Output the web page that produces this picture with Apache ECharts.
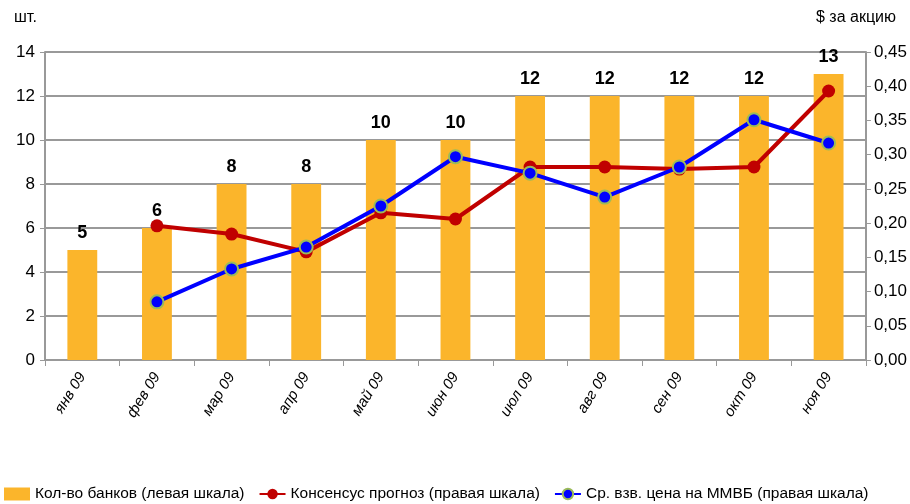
<!DOCTYPE html>
<html>
<head>
<meta charset="utf-8">
<script src="https://cdn.jsdelivr.net/npm/echarts@6/dist/echarts.min.js"></script>
<style>
html,body{margin:0;padding:0;background:#fff;}
#chart{width:910px;height:504px;}
</style>
</head>
<body>
<div id="chart"></div>
<script>
var months = ['янв 09','фев 09','мар 09','апр 09','май 09','июн 09','июл 09','авг 09','сен 09','окт 09','ноя 09'];
var banks = [5, 6, 8, 8, 10, 10, 12, 12, 12, 12, 13];
var consensus = [null, 0.196, 0.184, 0.158, 0.215, 0.206, 0.282, 0.282, 0.279, 0.282, 0.393];
var price = [null, 0.085, 0.133, 0.165, 0.225, 0.297, 0.273, 0.238, 0.282, 0.351, 0.317];

var font = 'Arial, "Liberation Sans", sans-serif';
var chart = echarts.init(document.getElementById('chart'));
var option = {
    animation: false,
    textStyle: {fontFamily: font},
    grid: {left: 45, right: 44, top: 52, bottom: 144},
    graphic: [
        {type: 'text', left: 14, top: 10, style: {text: 'шт.', fontSize: 16, fill: '#000', fontFamily: font}},
        {type: 'text', right: 14, top: 10, style: {text: '$ за акцию', fontSize: 16, fill: '#000', fontFamily: font}}
    ],
    legend: {
        bottom: 2,
        left: 4,
        width: 905,
        padding: 0,
        itemGap: 14,
        itemWidth: 26,
        itemHeight: 13,
        textStyle: {fontSize: 15.5, color: '#000', fontFamily: font},
        data: [
            {name: 'Кол-во банков (левая шкала)', icon: 'rect'},
            'Консенсус прогноз (правая шкала)',
            'Ср. взв. цена на ММВБ (правая шкала)'
        ]
    },
    xAxis: {
        type: 'category',
        data: months,
        axisLine: {lineStyle: {color: '#999', width: 2}},
        axisTick: {show: true, length: 6, lineStyle: {color: '#999'}},
        axisLabel: {rotate: 58, margin: 14, fontStyle: 'italic', fontSize: 15, color: '#000'}
    },
    yAxis: [
        {
            type: 'value',
            min: 0, max: 14, interval: 2,
            axisLine: {show: true, lineStyle: {color: '#999', width: 2}},
            axisTick: {show: true, length: 5, lineStyle: {color: '#999'}},
            axisLabel: {fontSize: 17, color: '#000', margin: 10},
            splitLine: {lineStyle: {color: '#999', width: 2}}
        },
        {
            type: 'value',
            min: 0, max: 0.45, interval: 0.05,
            axisLine: {show: true, lineStyle: {color: '#999', width: 2}},
            axisTick: {show: true, length: 5, lineStyle: {color: '#999'}},
            axisLabel: {
                fontSize: 17, color: '#000', margin: 8,
                formatter: function (v) { return v.toFixed(2).replace('.', ','); }
            },
            splitLine: {show: false}
        }
    ],
    series: [
        {
            name: 'Кол-во банков (левая шкала)',
            type: 'bar',
            data: banks,
            barWidth: '40%',
            itemStyle: {color: '#FBB52B'},
            label: {
                show: true, position: 'top', distance: 8,
                fontSize: 18, fontWeight: 'bold', color: '#000'
            }
        },
        {
            name: 'Консенсус прогноз (правая шкала)',
            type: 'line',
            yAxisIndex: 1,
            data: consensus,
            symbol: 'circle',
            symbolSize: 13,
            lineStyle: {color: '#C00000', width: 4},
            itemStyle: {color: '#C00000'}
        },
        {
            name: 'Ср. взв. цена на ММВБ (правая шкала)',
            type: 'line',
            yAxisIndex: 1,
            data: price,
            symbol: 'circle',
            symbolSize: 13,
            lineStyle: {color: '#0000FF', width: 4},
            itemStyle: {color: '#0000FF', borderColor: '#9BBB59', borderWidth: 2}
        }
    ]
};
chart.setOption(option);
</script>
</body>
</html>
